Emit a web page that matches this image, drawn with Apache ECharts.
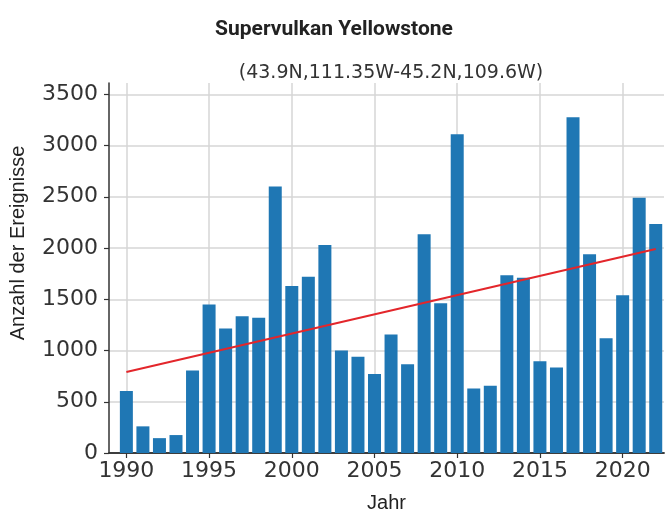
<!DOCTYPE html>
<html>
<head>
<meta charset="utf-8">
<script src="https://cdn.jsdelivr.net/npm/echarts@6/dist/echarts.min.js"></script>
<style>
  html, body { margin: 0; padding: 0; background: #fff; }
  #chart { width: 668px; height: 512px; }
</style>
</head>
<body>
<div id="chart"></div>
<script>
// Jahre und Anzahl der Ereignisse
const years = [1990, 1991, 1992, 1993, 1994, 1995, 1996, 1997, 1998, 1999,
  2000, 2001, 2002, 2003, 2004, 2005, 2006, 2007, 2008, 2009,
  2010, 2011, 2012, 2013, 2014, 2015, 2016, 2017, 2018, 2019,
  2020, 2021, 2022]
const counts = [605, 260, 145, 175, 805, 1450, 1215, 1335, 1320, 2600,
  1630, 1720, 2030, 1000, 940, 770, 1155, 865, 2135, 1460,
  3110, 630, 655, 1735, 1710, 895, 835, 3275, 1940, 1120,
  1540, 2490, 2235]
// Trendlinie (Endpunkte)
const trendYears = [1990, 2022]
const trendValues = [790, 1990]
const xTicks = [1990, 1995, 2000, 2005, 2010, 2015, 2020]
const yTicks = [0, 500, 1000, 1500, 2000, 2500, 3000, 3500]

const myChart = echarts.init(document.getElementById('chart'))
const tickFont = { fontFamily: 'DejaVu Sans', fontSize: 22, color: '#333' }
let option = {
  animation: false,
  title: [
    {
      text: 'Supervulkan Yellowstone',
      left: 'center',
      top: 14,
      textStyle: { fontFamily: 'Roboto', fontWeight: 'bold', fontSize: 21, color: '#222' }
    },
    {
      text: '(43.9N,111.35W-45.2N,109.6W)',
      left: 386,
      textAlign: 'center',
      top: 59,
      textStyle: { fontFamily: 'DejaVu Sans', fontWeight: 'normal', fontSize: 19, color: '#333' }
    }
  ],
  grid: { left: 109, top: 83, right: 4, bottom: 59, outerBoundsMode: 'none' },
  xAxis: [
    {
      type: 'value',
      min: 1988.95,
      max: 2022.5,
      name: 'Jahr',
      nameLocation: 'middle',
      nameGap: 40,
      nameTextStyle: { fontFamily: 'Liberation Sans', fontSize: 20, color: '#222' },
      axisLine: { show: true, onZero: false, lineStyle: { color: '#333', width: 1.5 } },
      axisTick: { show: true, customValues: xTicks, length: 5, lineStyle: { color: '#333', width: 1.2 } },
      axisLabel: { customValues: xTicks, margin: 7, formatter: v => String(v), ...tickFont },
      splitLine: { show: true, lineStyle: { color: '#d6d6d6', width: 1.5 } }
    },
    {
      type: 'value',
      position: 'top',
      min: 1988.95,
      max: 2022.5,
      axisLine: { show: true, lineStyle: { color: '#333', width: 1.5 } },
      axisTick: { show: false },
      axisLabel: { show: false },
      splitLine: { show: false }
    }
  ],
  yAxis: {
    type: 'value',
    min: 0,
    max: 3610,
    name: 'Anzahl der Ereignisse',
    nameLocation: 'middle',
    nameGap: 81,
    nameTextStyle: { fontFamily: 'Liberation Sans', fontSize: 20, color: '#222', padding: [0, 0, 0, 50] },
    axisLine: { show: true, lineStyle: { color: '#333', width: 1.5 } },
    axisTick: { show: true, customValues: yTicks, length: 5, lineStyle: { color: '#333', width: 1.2 } },
    axisLabel: { customValues: yTicks, margin: 11, formatter: v => String(v), ...tickFont },
    splitLine: { show: true, lineStyle: { color: '#d6d6d6', width: 1.5 } }
  },
  series: [
    {
      type: 'bar',
      xAxisIndex: 0,
      barWidth: 13,
      itemStyle: { color: '#1f77b4' },
      data: years.map((y, i) => [y, counts[i]])
    },
    {
      type: 'line',
      xAxisIndex: 0,
      symbol: 'none',
      lineStyle: { color: '#e3262b', width: 2 },
      data: trendYears.map((y, i) => [y, trendValues[i]]),
      z: 5
    }
  ]
}
myChart.setOption(option)
</script>
</body>
</html>
